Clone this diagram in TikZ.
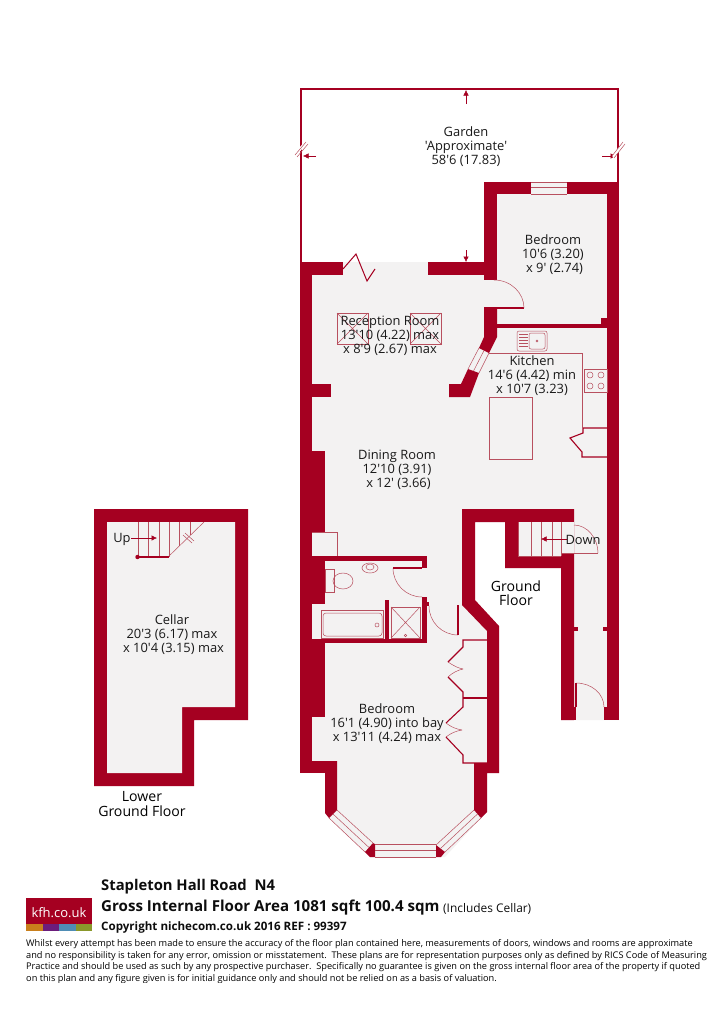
\documentclass[tikz,border=0pt]{standalone}
\usepackage{fontspec}
\usetikzlibrary{arrows.meta}

\newfontfamily\planfont{Open Sans}

\definecolor{wallred}{HTML}{A50021}
\definecolor{floorgrey}{HTML}{F3F2F2}
\definecolor{fitred}{HTML}{B8505F}
\definecolor{kfhorange}{HTML}{C97F1C}
\definecolor{kfhpurple}{HTML}{6B1D7C}
\definecolor{kfhblue}{HTML}{4F8DB5}
\definecolor{kfholive}{HTML}{8A982B}

\tikzset{
  wall/.style={fill=wallred, draw=none},
  floorarea/.style={fill=floorgrey, draw=none},
  fitting/.style={draw=fitred, line width=0.5pt},
  swing/.style={draw=wallred, line width=1.1pt},
  outline/.style={draw=wallred, line width=1.6pt},
  dimarrow/.style={draw=wallred, line width=0.5pt, -{Latex[length=5.5pt,width=5.5pt]}},
  roomlabel/.style={font=\planfont\fontsize{12.9}{13.9}\selectfont, align=center, text=black!90, inner sep=0pt, yshift=-1pt},
  floorlabel/.style={font=\planfont\fontsize{14.1}{14.4}\selectfont, align=center, text=black, inner sep=0pt},
  footline/.style={anchor=west, inner sep=0pt, text=black!95},
  small note/.style={font=\planfont\fontsize{9.2}{11.7}\selectfont, anchor=north west, align=left, inner sep=0pt, text=black}
}

\begin{document}
\begin{tikzpicture}[x=1pt,y=-1pt]
  \useasboundingbox (0,0) rectangle (715,1033);

  % Garden outline
  \draw[outline] (301,262) -- (301,89) -- (618,89) -- (618,182);
  \draw[dimarrow] (466,104) -- (466,90);
  \draw[dimarrow] (466,250) -- (466,262);
  \draw[dimarrow] (316,156) -- (303,156);
  \draw[dimarrow] (602,156) -- (616,156);
  \fill[white] (295,153) -- (305,141) -- (307,143) -- (297,155) -- cycle;
  \draw[fitting] (295,155) -- (306,142) (297,157) -- (308,144);
  \fill[white] (612,156) -- (622,143) -- (624,145) -- (614,158) -- cycle;
  \draw[fitting] (612,156) -- (623,142) (614,158) -- (625,144);

  % Ground floor
  \fill[floorarea] (300,262) -- (484,262) -- (484,182) -- (619,182) -- (619,720) -- (561,720)
    -- (561,568) -- (505,568) -- (505,522) -- (475,522) -- (475,600) -- (499,626) -- (499,773)
    -- (487,773) -- (487,812) -- (481,818) -- (445,857) -- (370,857) -- (329,818) -- (325,813)
    -- (325,773) -- (300,773) -- cycle;

  % Walls
  \fill[wall] (300,262) rectangle (312,773);
  \fill[wall] (300,262) rectangle (343,275);
  \fill[wall] (428,262) rectangle (497,275);
  \fill[wall] (484,182) rectangle (497,280);
  \fill[wall] (484,182) rectangle (531,194);
  \fill[wall] (567,182) rectangle (619,194);
  \fill[wall] (607,182) rectangle (619,720);
  \fill[wall] (497,324) rectangle (607,328);
  \fill[wall] (601,318) rectangle (607,328);
  \fill[wall] (484,308) -- (497,308) -- (497,337) -- (489,353) -- (479,348) -- (484,337) -- cycle;
  \fill[wall] (468,369) -- (479,373) -- (470,397) -- (449,397) -- (449,384) -- (461,384) -- cycle;
  \fill[wall] (312,384) rectangle (331,397);
  \fill[wall] (312,451) rectangle (325,532);
  \fill[wall] (312,556) rectangle (325,604);
  \fill[wall] (312,556) rectangle (427,561);
  \fill[wall] (422,556) rectangle (427,568);
  \fill[wall] (312,643) rectangle (325,717);
  \fill[wall] (312,639) rectangle (427,643);
  \fill[wall] (385,600) rectangle (389,639);
  \fill[wall] (422,597) rectangle (427,643);
  \fill[wall] (427,602) rectangle (429,606);
  \fill[wall] (312,761) rectangle (337,773);
  \fill[wall] (325,761) -- (337,761) -- (337,810) -- (329,818) -- (325,813) -- cycle;
  \fill[wall] (462,509) -- (574,509) -- (574,720) -- (561,720) -- (561,568) -- (505,568) -- (505,522)
    -- (475,522) -- (475,600) -- (499,626) -- (499,773) -- (487,773) -- (487,812) -- (481,818)
    -- (474,810) -- (474,763) -- (487,763) -- (487,631) -- (462,605) -- cycle;
  \fill[wall] (574,627) rectangle (578,631);
  \fill[wall] (603,627) rectangle (607,631);
  \fill[wall] (574,707) rectangle (576,720);
  \fill[wall] (604,707) rectangle (607,720);
  \fill[wall] (365,852) -- (373,843) -- (375,844) -- (375,857) -- (370,857) -- cycle;
  \fill[wall] (436,845) -- (445,852) -- (441,857) -- (436,857) -- cycle;
  \fill[floorarea] (518,522) rectangle (574,553);
  \fill[floorarea] (518,553) rectangle (561,556);

  % Windows
  \fill[floorarea] (531,182) rectangle (567,194);
  \draw[fitting] (531,182) -- (567,182) (531,187) -- (567,187) (531,194) -- (567,194);
  \draw[fitting] (479,348) -- (468,369) (489,353) -- (479,373) (484,350.5) -- (473.5,371);
  \draw[fitting] (329,818) -- (365,852) (337,810) -- (373,843) (333,814) -- (369,847.5);
  \draw[fitting] (375,844) -- (436,844) (375,850) -- (436,850) (375,857) -- (436,857);
  \draw[fitting] (474,810) -- (436,845) (481,818) -- (445,852) (477.5,814) -- (440.5,848.5);

  % Doors
  \draw[wallred, line width=1pt] (343,269) -- (356,254) -- (367,281) -- (375,269);
  \draw[swing] (484,308) -- (524,308);
  \draw[fitting] (494,280) .. controls (511,280) and (524,293) .. (524,308);
  \draw[fitting] (393,568) .. controls (393,584) and (406,597) .. (422,597);
  \draw[swing] (393,568) -- (422,568);
  \draw[fitting] (429,606) .. controls (429,622) and (442,635) .. (458,635);
  \draw[swing] (458,605) -- (458,635);
  \draw[fitting] (574,525) .. controls (587,525) and (598,538) .. (598,553);
  \draw[fitting] (562,553) -- (598,553);
  \draw[fitting] (576,683) .. controls (592,683) and (604,694) .. (604,707);
  \draw[swing] (576,683) -- (576,707);

  % Cupboards
  \draw[swing] (607,428) -- (583,428) -- (583,433) -- (570,438) -- (582,452) -- (582,457) -- (607,457);
  \draw[swing] (487,640) -- (463,640) -- (463,647) -- (448,662);
  \draw[fitting] (448,662) .. controls (454,666) and (458,668) .. (463,669);
  \draw[fitting] (463,669) .. controls (458,670) and (452,673) .. (448,677);
  \draw[swing] (448,677) -- (463,692) -- (463,707) -- (446,723);
  \draw[swing] (463,698) -- (487,698);
  \draw[fitting] (446,723) .. controls (451,727) and (456,729) .. (462,730);
  \draw[fitting] (462,730) .. controls (456,731) and (451,733) .. (446,737);
  \draw[swing] (446,737) -- (463,755) -- (463,763) -- (487,763);

  % Reception room roof lights
  \foreach \lx in {337,410} {
    \draw[fitting] (\lx,313) rectangle +(31,31);
    \draw[fitting] (\lx,313) -- +(31,31) (\lx+31,313) -- +(-31,31);
  }

  % Kitchen fittings
  \draw[fitting] (489,353) -- (582,353) -- (582,428);
  \draw[fitting] (489,397) rectangle (532,459);
  \draw[fitting, rounded corners=2pt] (517,331) rectangle (547,351);
  \draw[fitting, rounded corners=2pt] (529,333) rectangle (545,349);
  \foreach \ly in {334,337,340,343,346} {
    \draw[fitting] (519,\ly) -- (528,\ly);
  }
  \draw[fitting] (537,341) circle (1pt);
  \draw[fitting] (584,369) rectangle (607,392);
  \foreach \hx in {590,601} {
    \foreach \hy in {375,386} {
      \draw[fitting] (\hx,\hy) circle (3pt);
    }
  }

  % Stairs down
  \foreach \sx in {518,531,541,552,561} {
    \draw[fitting] (\sx,522) -- (\sx,556);
  }
  \draw[fitting] (518,556) -- (561,556);
  \draw[dimarrow] (567,539) -- (541,539);

  % Bathroom fittings
  \draw[fitting] (312,532) -- (337,532) -- (337,556);
  \draw[fitting, fill=floorgrey] (325,569) rectangle (334,592);
  \draw[fitting] (343,581) ellipse (10pt and 8pt);
  \draw[fitting] (370,568) ellipse (8pt and 5pt);
  \draw[fitting] (370,567) ellipse (4pt and 3pt);
  \draw[fitting] (321,610) rectangle (383,638);
  \draw[fitting, rounded corners=3pt] (323,613) rectangle (382,636);
  \draw[fitting] (377,625) circle (2pt);
  \draw[fitting] (391,607) rectangle (420,638);
  \draw[fitting] (391,607) -- (420,638) (420,607) -- (391,638);
  \draw[fitting] (405.5,635.5) circle (1.2pt);

  % Cellar
  \fill[wall] (94,509) -- (248,509) -- (248,720) -- (194,720) -- (194,786) -- (94,786) -- cycle;
  \fill[floorarea] (107,522) -- (235,522) -- (235,707) -- (182,707) -- (182,773) -- (107,773) -- cycle;
  \foreach \sx/\sy in {138/557,148/557,159/557,169/557,179/546,190/535} {
    \draw[fitting] (\sx,522) -- (\sx,\sy);
  }
  \draw[fitting] (168,557) -- (204,522);
  \draw[fitting] (183,535) -- (192,543) (185,533) -- (194,541);
  \draw[wallred, line width=2.2pt] (138,557) -- (169,557);
  \fill[wallred] (137.5,557) circle (2.2pt);
  \draw[dimarrow] (131,538) -- (157,538);

  % Room labels
  \node[roomlabel] (garden) at (466,146) {Garden\\'Approximate'\\58'6 (17.83)};
  \node[roomlabel] (bedroomrear) at (553,254) {Bedroom\\10'6 (3.20)\\\hspace*{3pt}x 9' (2.74)};
  \node[roomlabel] (reception) at (390,335) {Reception Room\\13'10 (4.22) max\\x 8'9 (2.67) max};
  \node[roomlabel] (kitchen) at (532,375) {Kitchen\\14'6 (4.42) min\\x 10'7 (3.23)};
  \node[roomlabel] (dining) at (397,469) {Dining Room\\12'10 (3.91)\\\hspace*{3pt}x 12' (3.66)};
  \node[roomlabel] (bedroomfront) at (387,723) {Bedroom\\16'1 (4.90) into bay\\x 13'11 (4.24) max};
  \node[roomlabel] (cellar) at (172,634) {Cellar\\20'3 (6.17) max\\\hspace*{3pt}x 10'4 (3.15) max};
  \node[roomlabel] (up) at (122,538) {Up};
  \node[roomlabel] (down) at (583,539) {Down};
  \node[floorlabel] (groundfloor) at (516,593) {Ground\\Floor};
  \node[floorlabel] (lowerfloor) at (142,804) {Lower\\Ground Floor};

  % Logo
  \fill[wallred] (26,898) rectangle (92,924);
  \fill[kfhorange] (26,924) rectangle (42.5,931);
  \fill[kfhpurple] (42.5,924) rectangle (59,931);
  \fill[kfhblue] (59,924) rectangle (75.5,931);
  \fill[kfholive] (75.5,924) rectangle (92,931);
  \node[font=\planfont\fontsize{13}{13}\selectfont, text=white, inner sep=0pt] (logo) at (59,912.5) {kfh.co.uk};

  % Footer text
  \node[footline, font=\planfont\bfseries\fontsize{14.8}{16}\selectfont] (address) at (101,887) {Stapleton Hall Road~~N4};
  \node[footline, font=\planfont\bfseries\fontsize{15.1}{16}\selectfont] (area) at (101,908) {Gross Internal Floor Area 1081 sqft 100.4 sqm};
  \node[footline, font=\planfont\fontsize{11.9}{12}\selectfont] (cellarnote) at (443,909) {(Includes Cellar)};
  \node[footline, font=\planfont\bfseries\fontsize{11.6}{13}\selectfont] (copyright) at (101,927) {Copyright nichecom.co.uk 2016 REF : 99397};
  \begin{scope}
    \clip (0,930) rectangle (715,982);
    \node[small note] (disclaimer) at (26,939.3) {Whilst every attempt has been made to ensure the accuracy of the floor plan contained here, measurements of doors, windows and rooms are approximate\\
and no responsibility is taken for any error, omission or misstatement.~~These plans are for representation purposes only as defined by RICS Code of Measuring\\
Practice and should be used as such by any prospective purchaser.~~Specifically no guarantee is given on the gross internal floor area of the property if quoted\\
on this plan and any figure given is for initial guidance only and should not be relied on as a basis of valuation.};
  \end{scope}

\end{tikzpicture}
\end{document}
